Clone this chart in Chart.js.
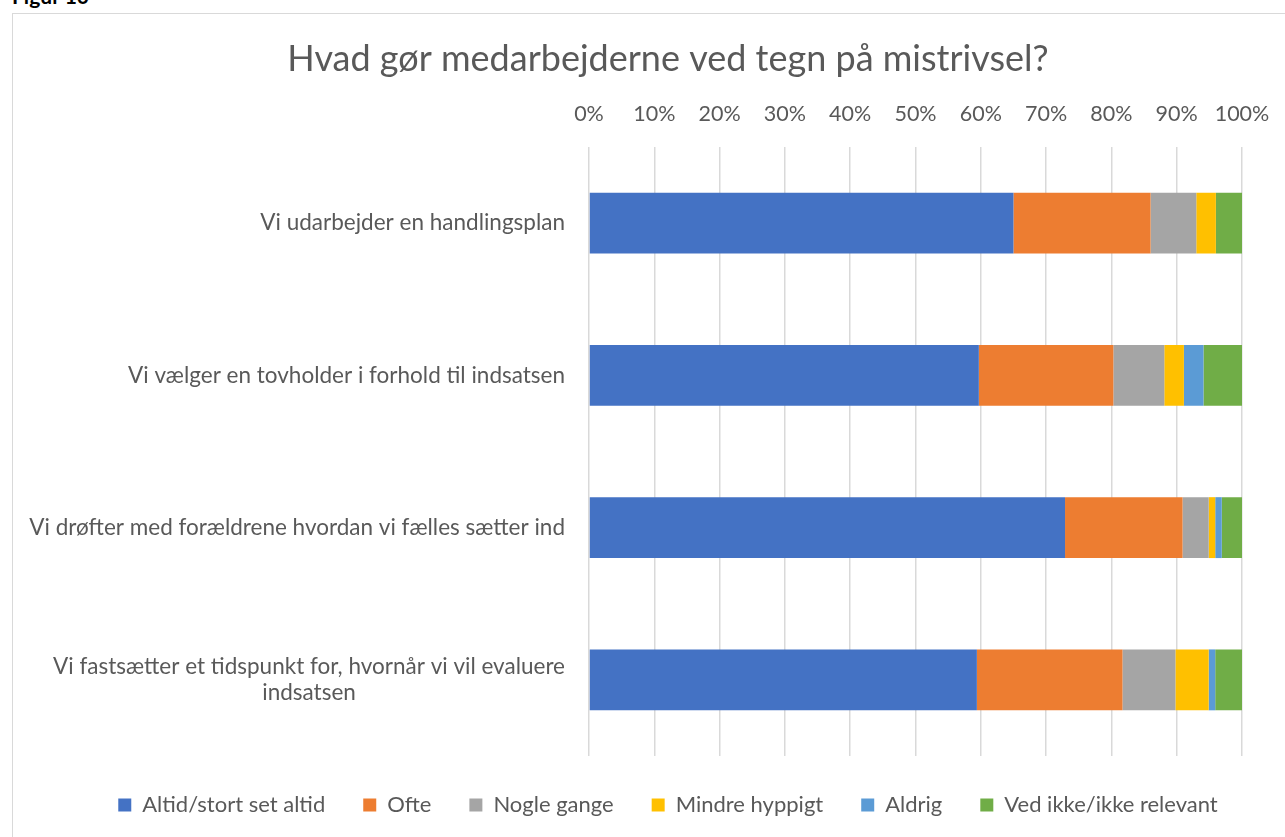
<!DOCTYPE html>
<html>
<head>
<meta charset="utf-8">
<script src="https://cdn.jsdelivr.net/npm/chart.js@4.4.1/dist/chart.umd.min.js"></script>
<style>
  body { margin: 0; width: 1285px; height: 837px; overflow: hidden; background: #fff; position: relative; }
  #fig { position: absolute; left: 12px; top: -17px; font: bold 21px Lato; color: #000; }
  #box { position: absolute; left: 12px; top: 13px; width: 1312px; height: 840px; border: 1px solid #d9d9d9; box-sizing: border-box; }
  #chart { position: absolute; left: 0; top: 0; }
</style>
</head>
<body>
<div id="fig">Figur 10</div>
<div id="box"><canvas id="chart" width="1310" height="823"></canvas></div>
<script>
// data
const categories = [
    'Vi udarbejder en handlingsplan',
    'Vi vælger en tovholder i forhold til indsatsen',
    'Vi drøfter med forældrene hvordan vi fælles sætter ind',
    ['Vi fastsætter et tidspunkt for, hvornår vi vil evaluere', 'indsatsen']
];
const seriesNames = ['Altid/stort set altid', 'Ofte', 'Nogle gange', 'Mindre hyppigt', 'Aldrig', 'Ved ikke/ikke relevant'];
const altid = [65, 59.7, 72.9, 59.4];
const ofte = [21, 20.6, 18, 22.3];
const nogleGange = [7, 7.8, 4, 8.1];
const mindreHyppigt = [3, 3, 1, 5.1];
const aldrig = [0, 3, 1, 1];
const vedIkke = [4, 5.9, 3.1, 4.1];
const colors = ['#4472C4', '#ED7D31', '#A5A5A5', '#FFC000', '#5B9BD5', '#70AD47'];

const textColor = '#595959';
const fontFamily = 'Lato';

// draw the category labels ourselves: right-aligned block, lines centred inside it
const catLabels = {
    id: 'catLabels',
    afterDraw(chart) {
        const { ctx, chartArea } = chart;
        const y = chart.scales.y;
        ctx.save();
        ctx.font = '22.5px ' + fontFamily;
        ctx.fillStyle = textColor;
        ctx.textAlign = 'center';
        ctx.textBaseline = 'middle';
        categories.forEach((lab, i) => {
            const lines = Array.isArray(lab) ? lab : [lab];
            const w = Math.max(...lines.map(l => ctx.measureText(l).width));
            const cx = chartArea.left - 24 - w / 2;
            const lh = 26;
            const y0 = y.getPixelForValue(i) - (lines.length - 1) * lh / 2;
            lines.forEach((l, j) => ctx.fillText(l, cx, y0 + j * lh));
        });
        ctx.restore();
    }
};

const values = [altid, ofte, nogleGange, mindreHyppigt, aldrig, vedIkke];

new Chart(document.getElementById('chart'), {
    type: 'bar',
    data: {
        labels: categories,
        datasets: seriesNames.map((name, i) => ({
            label: name,
            data: values[i],
            backgroundColor: colors[i],
            borderWidth: 0,
            categoryPercentage: 1,
            barPercentage: 0.4
        }))
    },
    options: {
        indexAxis: 'y',
        responsive: false,
        animation: false,
        layout: { padding: { left: 0, right: 0, bottom: 11 } },
        scales: {
            x: {
                position: 'top',
                stacked: true,
                min: 0,
                max: 100,
                ticks: {
                    stepSize: 10,
                    callback: v => v + '%',
                    color: textColor,
                    font: { family: fontFamily, size: 21.5 },
                    padding: 20
                },
                grid: { color: '#d9d9d9', lineWidth: 1.5, drawTicks: false },
                border: { display: false }
            },
            y: {
                stacked: true,
                ticks: { display: false },
                grid: { display: false },
                border: { display: false },
                afterFit: s => { s.width = 576; }
            },
            // empty axis on the right, only to keep space so title/legend stay centred on the whole box
            yRight: {
                position: 'right',
                ticks: { display: false },
                grid: { display: false },
                border: { display: false },
                afterFit: s => { s.width = 81; }
            }
        },
        plugins: {
            title: {
                display: true,
                text: 'Hvad gør medarbejderne ved tegn på mistrivsel?',
                color: textColor,
                font: { family: fontFamily, size: 36, weight: 'normal' },
                padding: { top: 24, bottom: 0 }
            },
            legend: {
                position: 'bottom',
                labels: {
                    boxWidth: 13,
                    boxHeight: 13,
                    color: textColor,
                    font: { family: fontFamily, size: 22 },
                    padding: 38
                }
            },
            tooltip: { enabled: false }
        }
    },
    plugins: [catLabels]
});
</script>
</body>
</html>
